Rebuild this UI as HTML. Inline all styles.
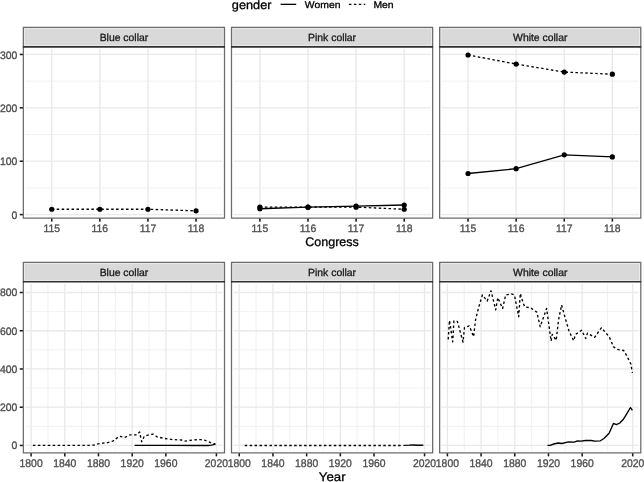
<!DOCTYPE html>
<html lang="en"><head><meta charset="utf-8"><title>Occupational background by gender</title>
<style>html,body{margin:0;padding:0;background:#fff}svg{display:block}</style></head>
<body>
<svg width="644" height="482" viewBox="0 0 644 482" text-rendering="geometricPrecision" font-family='"Liberation Sans", Arial, Helvetica, sans-serif'>
<rect width="644" height="482" fill="#fff"/>
<path d="M25.25 187.91H222.6" stroke="#e9e9e9" stroke-width="0.65"/>
<path d="M25.25 134.53H222.6" stroke="#e9e9e9" stroke-width="0.65"/>
<path d="M25.25 81.15H222.6" stroke="#e9e9e9" stroke-width="0.65"/>
<path d="M25.25 214.6H222.6" stroke="#e9e9e9" stroke-width="1.3"/>
<path d="M25.25 161.22H222.6" stroke="#e9e9e9" stroke-width="1.3"/>
<path d="M25.25 107.84H222.6" stroke="#e9e9e9" stroke-width="1.3"/>
<path d="M25.25 54.46H222.6" stroke="#e9e9e9" stroke-width="1.3"/>
<path d="M51.75 49.2V216.15" stroke="#e9e9e9" stroke-width="1.3"/>
<path d="M99.85 49.2V216.15" stroke="#e9e9e9" stroke-width="1.3"/>
<path d="M147.95 49.2V216.15" stroke="#e9e9e9" stroke-width="1.3"/>
<path d="M196.05 49.2V216.15" stroke="#e9e9e9" stroke-width="1.3"/>
<polyline points="51.75,209.26 99.85,209.26 147.95,209.26 196.05,210.86" fill="none" stroke="#000" stroke-width="1.3" stroke-dasharray="2.5 2.45"/>
<circle cx="51.75" cy="209.26" r="2.6" fill="#000"/>
<circle cx="99.85" cy="209.26" r="2.6" fill="#000"/>
<circle cx="147.95" cy="209.26" r="2.6" fill="#000"/>
<circle cx="196.05" cy="210.86" r="2.6" fill="#000"/>
<rect x="23.35" y="27.4" width="201.15" height="19.5" fill="#d9d9d9"/>
<rect x="24.6" y="28.6" width="198.65" height="16.9" fill="none" stroke="#ececec" stroke-width="0.9"/>
<path d="M23.35 218.05V27.4H224.5V218.05Z" fill="none" stroke="#6b6b6b" stroke-width="1.25"/>
<path d="M22.9 46.9H224.95" stroke="#303030" stroke-width="1.6"/>
<text transform="translate(123.93 40.65) scale(1.04 1.04)" font-size="10" fill="#1a1a1a" stroke="#1a1a1a" stroke-width="0.3" text-anchor="middle">Blue collar</text>
<path d="M51.75 218.55v3.1" stroke="#1a1a1a" stroke-width="1.55"/>
<text transform="translate(51.75 231.6) scale(1.04 1.08)" font-size="10" fill="#4d4d4d" stroke="#4d4d4d" stroke-width="0.3" text-anchor="middle">115</text>
<path d="M99.85 218.55v3.1" stroke="#1a1a1a" stroke-width="1.55"/>
<text transform="translate(99.85 231.6) scale(1.04 1.08)" font-size="10" fill="#4d4d4d" stroke="#4d4d4d" stroke-width="0.3" text-anchor="middle">116</text>
<path d="M147.95 218.55v3.1" stroke="#1a1a1a" stroke-width="1.55"/>
<text transform="translate(147.95 231.6) scale(1.04 1.08)" font-size="10" fill="#4d4d4d" stroke="#4d4d4d" stroke-width="0.3" text-anchor="middle">117</text>
<path d="M196.05 218.55v3.1" stroke="#1a1a1a" stroke-width="1.55"/>
<text transform="translate(196.05 231.6) scale(1.04 1.08)" font-size="10" fill="#4d4d4d" stroke="#4d4d4d" stroke-width="0.3" text-anchor="middle">118</text>
<path d="M233.4 187.91H430.75" stroke="#e9e9e9" stroke-width="0.65"/>
<path d="M233.4 134.53H430.75" stroke="#e9e9e9" stroke-width="0.65"/>
<path d="M233.4 81.15H430.75" stroke="#e9e9e9" stroke-width="0.65"/>
<path d="M233.4 214.6H430.75" stroke="#e9e9e9" stroke-width="1.3"/>
<path d="M233.4 161.22H430.75" stroke="#e9e9e9" stroke-width="1.3"/>
<path d="M233.4 107.84H430.75" stroke="#e9e9e9" stroke-width="1.3"/>
<path d="M233.4 54.46H430.75" stroke="#e9e9e9" stroke-width="1.3"/>
<path d="M259.9 49.2V216.15" stroke="#e9e9e9" stroke-width="1.3"/>
<path d="M308 49.2V216.15" stroke="#e9e9e9" stroke-width="1.3"/>
<path d="M356.1 49.2V216.15" stroke="#e9e9e9" stroke-width="1.3"/>
<path d="M404.2 49.2V216.15" stroke="#e9e9e9" stroke-width="1.3"/>
<polyline points="259.9,207.13 308,207.13 356.1,207.13 404.2,209.26" fill="none" stroke="#000" stroke-width="1.3" stroke-dasharray="2.5 2.45"/>
<circle cx="259.9" cy="207.13" r="2.6" fill="#000"/>
<circle cx="308" cy="207.13" r="2.6" fill="#000"/>
<circle cx="356.1" cy="207.13" r="2.6" fill="#000"/>
<circle cx="404.2" cy="209.26" r="2.6" fill="#000"/>
<polyline points="259.9,208.73 308,207.13 356.1,206.06 404.2,204.99" fill="none" stroke="#000" stroke-width="1.3"/>
<circle cx="259.9" cy="208.73" r="2.6" fill="#000"/>
<circle cx="308" cy="207.13" r="2.6" fill="#000"/>
<circle cx="356.1" cy="206.06" r="2.6" fill="#000"/>
<circle cx="404.2" cy="204.99" r="2.6" fill="#000"/>
<rect x="231.5" y="27.4" width="201.15" height="19.5" fill="#d9d9d9"/>
<rect x="232.75" y="28.6" width="198.65" height="16.9" fill="none" stroke="#ececec" stroke-width="0.9"/>
<path d="M231.5 218.05V27.4H432.65V218.05Z" fill="none" stroke="#6b6b6b" stroke-width="1.25"/>
<path d="M231.05 46.9H433.1" stroke="#303030" stroke-width="1.6"/>
<text transform="translate(332.07 40.65) scale(1.04 1.04)" font-size="10" fill="#1a1a1a" stroke="#1a1a1a" stroke-width="0.3" text-anchor="middle">Pink collar</text>
<path d="M259.9 218.55v3.1" stroke="#1a1a1a" stroke-width="1.55"/>
<text transform="translate(259.9 231.6) scale(1.04 1.08)" font-size="10" fill="#4d4d4d" stroke="#4d4d4d" stroke-width="0.3" text-anchor="middle">115</text>
<path d="M308 218.55v3.1" stroke="#1a1a1a" stroke-width="1.55"/>
<text transform="translate(308 231.6) scale(1.04 1.08)" font-size="10" fill="#4d4d4d" stroke="#4d4d4d" stroke-width="0.3" text-anchor="middle">116</text>
<path d="M356.1 218.55v3.1" stroke="#1a1a1a" stroke-width="1.55"/>
<text transform="translate(356.1 231.6) scale(1.04 1.08)" font-size="10" fill="#4d4d4d" stroke="#4d4d4d" stroke-width="0.3" text-anchor="middle">117</text>
<path d="M404.2 218.55v3.1" stroke="#1a1a1a" stroke-width="1.55"/>
<text transform="translate(404.2 231.6) scale(1.04 1.08)" font-size="10" fill="#4d4d4d" stroke="#4d4d4d" stroke-width="0.3" text-anchor="middle">118</text>
<path d="M441.55 187.91H638.9" stroke="#e9e9e9" stroke-width="0.65"/>
<path d="M441.55 134.53H638.9" stroke="#e9e9e9" stroke-width="0.65"/>
<path d="M441.55 81.15H638.9" stroke="#e9e9e9" stroke-width="0.65"/>
<path d="M441.55 214.6H638.9" stroke="#e9e9e9" stroke-width="1.3"/>
<path d="M441.55 161.22H638.9" stroke="#e9e9e9" stroke-width="1.3"/>
<path d="M441.55 107.84H638.9" stroke="#e9e9e9" stroke-width="1.3"/>
<path d="M441.55 54.46H638.9" stroke="#e9e9e9" stroke-width="1.3"/>
<path d="M468.05 49.2V216.15" stroke="#e9e9e9" stroke-width="1.3"/>
<path d="M516.15 49.2V216.15" stroke="#e9e9e9" stroke-width="1.3"/>
<path d="M564.25 49.2V216.15" stroke="#e9e9e9" stroke-width="1.3"/>
<path d="M612.35 49.2V216.15" stroke="#e9e9e9" stroke-width="1.3"/>
<polyline points="468.05,54.99 516.15,64.07 564.25,72.08 612.35,74.21" fill="none" stroke="#000" stroke-width="1.3" stroke-dasharray="2.5 2.45"/>
<circle cx="468.05" cy="54.99" r="2.6" fill="#000"/>
<circle cx="516.15" cy="64.07" r="2.6" fill="#000"/>
<circle cx="564.25" cy="72.08" r="2.6" fill="#000"/>
<circle cx="612.35" cy="74.21" r="2.6" fill="#000"/>
<polyline points="468.05,173.5 516.15,168.69 564.25,154.81 612.35,156.95" fill="none" stroke="#000" stroke-width="1.3"/>
<circle cx="468.05" cy="173.5" r="2.6" fill="#000"/>
<circle cx="516.15" cy="168.69" r="2.6" fill="#000"/>
<circle cx="564.25" cy="154.81" r="2.6" fill="#000"/>
<circle cx="612.35" cy="156.95" r="2.6" fill="#000"/>
<rect x="439.65" y="27.4" width="201.15" height="19.5" fill="#d9d9d9"/>
<rect x="440.9" y="28.6" width="198.65" height="16.9" fill="none" stroke="#ececec" stroke-width="0.9"/>
<path d="M439.65 218.05V27.4H640.8V218.05Z" fill="none" stroke="#6b6b6b" stroke-width="1.25"/>
<path d="M439.2 46.9H641.25" stroke="#303030" stroke-width="1.6"/>
<text transform="translate(540.23 40.65) scale(1.04 1.04)" font-size="10" fill="#1a1a1a" stroke="#1a1a1a" stroke-width="0.3" text-anchor="middle">White collar</text>
<path d="M468.05 218.55v3.1" stroke="#1a1a1a" stroke-width="1.55"/>
<text transform="translate(468.05 231.6) scale(1.04 1.08)" font-size="10" fill="#4d4d4d" stroke="#4d4d4d" stroke-width="0.3" text-anchor="middle">115</text>
<path d="M516.15 218.55v3.1" stroke="#1a1a1a" stroke-width="1.55"/>
<text transform="translate(516.15 231.6) scale(1.04 1.08)" font-size="10" fill="#4d4d4d" stroke="#4d4d4d" stroke-width="0.3" text-anchor="middle">116</text>
<path d="M564.25 218.55v3.1" stroke="#1a1a1a" stroke-width="1.55"/>
<text transform="translate(564.25 231.6) scale(1.04 1.08)" font-size="10" fill="#4d4d4d" stroke="#4d4d4d" stroke-width="0.3" text-anchor="middle">117</text>
<path d="M612.35 218.55v3.1" stroke="#1a1a1a" stroke-width="1.55"/>
<text transform="translate(612.35 231.6) scale(1.04 1.08)" font-size="10" fill="#4d4d4d" stroke="#4d4d4d" stroke-width="0.3" text-anchor="middle">118</text>
<path d="M22.85 214.6h-3.1" stroke="#1a1a1a" stroke-width="1.55"/>
<text transform="translate(17.3 218.85) scale(1.04 1.08)" font-size="10" fill="#4d4d4d" stroke="#4d4d4d" stroke-width="0.3" text-anchor="end">0</text>
<path d="M22.85 161.22h-3.1" stroke="#1a1a1a" stroke-width="1.55"/>
<text transform="translate(17.3 165.47) scale(1.04 1.08)" font-size="10" fill="#4d4d4d" stroke="#4d4d4d" stroke-width="0.3" text-anchor="end">100</text>
<path d="M22.85 107.84h-3.1" stroke="#1a1a1a" stroke-width="1.55"/>
<text transform="translate(17.3 112.09) scale(1.04 1.08)" font-size="10" fill="#4d4d4d" stroke="#4d4d4d" stroke-width="0.3" text-anchor="end">200</text>
<path d="M22.85 54.46h-3.1" stroke="#1a1a1a" stroke-width="1.55"/>
<text transform="translate(17.3 58.71) scale(1.04 1.08)" font-size="10" fill="#4d4d4d" stroke="#4d4d4d" stroke-width="0.3" text-anchor="end">300</text>
<text transform="translate(332 246.4) scale(1.0 0.99)" font-size="12.5" fill="#000" stroke="#000" stroke-width="0.3" text-anchor="middle">Congress</text>
<path d="M25.25 426.33H222.6" stroke="#e9e9e9" stroke-width="0.65"/>
<path d="M25.25 388.09H222.6" stroke="#e9e9e9" stroke-width="0.65"/>
<path d="M25.25 349.86H222.6" stroke="#e9e9e9" stroke-width="0.65"/>
<path d="M25.25 311.62H222.6" stroke="#e9e9e9" stroke-width="0.65"/>
<path d="M47.95 284.1V450.9" stroke="#e9e9e9" stroke-width="0.65"/>
<path d="M81.64 284.1V450.9" stroke="#e9e9e9" stroke-width="0.65"/>
<path d="M115.33 284.1V450.9" stroke="#e9e9e9" stroke-width="0.65"/>
<path d="M149.02 284.1V450.9" stroke="#e9e9e9" stroke-width="0.65"/>
<path d="M191.14 284.1V450.9" stroke="#e9e9e9" stroke-width="0.65"/>
<path d="M25.25 445.45H222.6" stroke="#e9e9e9" stroke-width="1.3"/>
<path d="M25.25 407.21H222.6" stroke="#e9e9e9" stroke-width="1.3"/>
<path d="M25.25 368.97H222.6" stroke="#e9e9e9" stroke-width="1.3"/>
<path d="M25.25 330.74H222.6" stroke="#e9e9e9" stroke-width="1.3"/>
<path d="M25.25 292.5H222.6" stroke="#e9e9e9" stroke-width="1.3"/>
<path d="M31.1 284.1V450.9" stroke="#e9e9e9" stroke-width="1.3"/>
<path d="M64.79 284.1V450.9" stroke="#e9e9e9" stroke-width="1.3"/>
<path d="M98.48 284.1V450.9" stroke="#e9e9e9" stroke-width="1.3"/>
<path d="M132.18 284.1V450.9" stroke="#e9e9e9" stroke-width="1.3"/>
<path d="M165.87 284.1V450.9" stroke="#e9e9e9" stroke-width="1.3"/>
<path d="M216.41 284.1V450.9" stroke="#e9e9e9" stroke-width="1.3"/>
<polyline points="32.9,445.4 60,445.4 80,445.35 90,445.3 94,445 97.7,443.95 102.7,443.2 107.6,442.7 112.8,441.1 119.3,436.3 124.8,437.4 130.2,434.8 136.7,434.8 139.6,432 141.7,441.7 144.3,436.3 148.7,434.8 153,434.1 157.4,437 165,438.5 172.6,439.6 181.3,440 185.7,441.1 192.2,440 200.9,439.6 205.2,440.4 208,441.4 210.5,442.6 213,443.6 215.3,444" fill="none" stroke="#000" stroke-width="1.35" stroke-linejoin="round" stroke-dasharray="2.5 2.45"/>
<polyline points="134.6,445.35 170,445.3 200,445.45 208,445.5 211.5,445.2 213.5,444.7 215.4,444" fill="none" stroke="#000" stroke-width="1.35" stroke-linejoin="round"/>
<rect x="23.35" y="262.35" width="201.15" height="19.45" fill="#d9d9d9"/>
<rect x="24.6" y="263.55" width="198.65" height="16.85" fill="none" stroke="#ececec" stroke-width="0.9"/>
<path d="M23.35 452.8V262.35H224.5V452.8Z" fill="none" stroke="#6b6b6b" stroke-width="1.25"/>
<path d="M22.9 281.8H224.95" stroke="#303030" stroke-width="1.6"/>
<text transform="translate(123.93 275.6) scale(1.04 1.04)" font-size="10" fill="#1a1a1a" stroke="#1a1a1a" stroke-width="0.3" text-anchor="middle">Blue collar</text>
<path d="M31.1 453.3v3.1" stroke="#1a1a1a" stroke-width="1.55"/>
<text transform="translate(31.1 466.55) scale(1.04 1.12)" font-size="10" fill="#4d4d4d" stroke="#4d4d4d" stroke-width="0.3" text-anchor="middle">1800</text>
<path d="M64.79 453.3v3.1" stroke="#1a1a1a" stroke-width="1.55"/>
<text transform="translate(64.79 466.55) scale(1.04 1.12)" font-size="10" fill="#4d4d4d" stroke="#4d4d4d" stroke-width="0.3" text-anchor="middle">1840</text>
<path d="M98.48 453.3v3.1" stroke="#1a1a1a" stroke-width="1.55"/>
<text transform="translate(98.48 466.55) scale(1.04 1.12)" font-size="10" fill="#4d4d4d" stroke="#4d4d4d" stroke-width="0.3" text-anchor="middle">1880</text>
<path d="M132.18 453.3v3.1" stroke="#1a1a1a" stroke-width="1.55"/>
<text transform="translate(132.18 466.55) scale(1.04 1.12)" font-size="10" fill="#4d4d4d" stroke="#4d4d4d" stroke-width="0.3" text-anchor="middle">1920</text>
<path d="M165.87 453.3v3.1" stroke="#1a1a1a" stroke-width="1.55"/>
<text transform="translate(165.87 466.55) scale(1.04 1.12)" font-size="10" fill="#4d4d4d" stroke="#4d4d4d" stroke-width="0.3" text-anchor="middle">1960</text>
<path d="M216.41 453.3v3.1" stroke="#1a1a1a" stroke-width="1.55"/>
<text transform="translate(216.41 466.55) scale(1.04 1.12)" font-size="10" fill="#4d4d4d" stroke="#4d4d4d" stroke-width="0.3" text-anchor="middle">2020</text>
<path d="M233.4 426.33H430.75" stroke="#e9e9e9" stroke-width="0.65"/>
<path d="M233.4 388.09H430.75" stroke="#e9e9e9" stroke-width="0.65"/>
<path d="M233.4 349.86H430.75" stroke="#e9e9e9" stroke-width="0.65"/>
<path d="M233.4 311.62H430.75" stroke="#e9e9e9" stroke-width="0.65"/>
<path d="M256.1 284.1V450.9" stroke="#e9e9e9" stroke-width="0.65"/>
<path d="M289.79 284.1V450.9" stroke="#e9e9e9" stroke-width="0.65"/>
<path d="M323.48 284.1V450.9" stroke="#e9e9e9" stroke-width="0.65"/>
<path d="M357.17 284.1V450.9" stroke="#e9e9e9" stroke-width="0.65"/>
<path d="M399.29 284.1V450.9" stroke="#e9e9e9" stroke-width="0.65"/>
<path d="M233.4 445.45H430.75" stroke="#e9e9e9" stroke-width="1.3"/>
<path d="M233.4 407.21H430.75" stroke="#e9e9e9" stroke-width="1.3"/>
<path d="M233.4 368.97H430.75" stroke="#e9e9e9" stroke-width="1.3"/>
<path d="M233.4 330.74H430.75" stroke="#e9e9e9" stroke-width="1.3"/>
<path d="M233.4 292.5H430.75" stroke="#e9e9e9" stroke-width="1.3"/>
<path d="M239.25 284.1V450.9" stroke="#e9e9e9" stroke-width="1.3"/>
<path d="M272.94 284.1V450.9" stroke="#e9e9e9" stroke-width="1.3"/>
<path d="M306.63 284.1V450.9" stroke="#e9e9e9" stroke-width="1.3"/>
<path d="M340.33 284.1V450.9" stroke="#e9e9e9" stroke-width="1.3"/>
<path d="M374.02 284.1V450.9" stroke="#e9e9e9" stroke-width="1.3"/>
<path d="M424.56 284.1V450.9" stroke="#e9e9e9" stroke-width="1.3"/>
<polyline points="244.7,445.5 403.2,445.5" fill="none" stroke="#000" stroke-width="1.35" stroke-linejoin="round" stroke-dasharray="2.5 2.45"/>
<polyline points="403.5,445.35 409,445.2 413,445 417,445.25 421,445.25 423.4,445.05" fill="none" stroke="#000" stroke-width="1.35" stroke-linejoin="round"/>
<rect x="231.5" y="262.35" width="201.15" height="19.45" fill="#d9d9d9"/>
<rect x="232.75" y="263.55" width="198.65" height="16.85" fill="none" stroke="#ececec" stroke-width="0.9"/>
<path d="M231.5 452.8V262.35H432.65V452.8Z" fill="none" stroke="#6b6b6b" stroke-width="1.25"/>
<path d="M231.05 281.8H433.1" stroke="#303030" stroke-width="1.6"/>
<text transform="translate(332.07 275.6) scale(1.04 1.04)" font-size="10" fill="#1a1a1a" stroke="#1a1a1a" stroke-width="0.3" text-anchor="middle">Pink collar</text>
<path d="M239.25 453.3v3.1" stroke="#1a1a1a" stroke-width="1.55"/>
<text transform="translate(239.25 466.55) scale(1.04 1.12)" font-size="10" fill="#4d4d4d" stroke="#4d4d4d" stroke-width="0.3" text-anchor="middle">1800</text>
<path d="M272.94 453.3v3.1" stroke="#1a1a1a" stroke-width="1.55"/>
<text transform="translate(272.94 466.55) scale(1.04 1.12)" font-size="10" fill="#4d4d4d" stroke="#4d4d4d" stroke-width="0.3" text-anchor="middle">1840</text>
<path d="M306.63 453.3v3.1" stroke="#1a1a1a" stroke-width="1.55"/>
<text transform="translate(306.63 466.55) scale(1.04 1.12)" font-size="10" fill="#4d4d4d" stroke="#4d4d4d" stroke-width="0.3" text-anchor="middle">1880</text>
<path d="M340.33 453.3v3.1" stroke="#1a1a1a" stroke-width="1.55"/>
<text transform="translate(340.33 466.55) scale(1.04 1.12)" font-size="10" fill="#4d4d4d" stroke="#4d4d4d" stroke-width="0.3" text-anchor="middle">1920</text>
<path d="M374.02 453.3v3.1" stroke="#1a1a1a" stroke-width="1.55"/>
<text transform="translate(374.02 466.55) scale(1.04 1.12)" font-size="10" fill="#4d4d4d" stroke="#4d4d4d" stroke-width="0.3" text-anchor="middle">1960</text>
<path d="M424.56 453.3v3.1" stroke="#1a1a1a" stroke-width="1.55"/>
<text transform="translate(424.56 466.55) scale(1.04 1.12)" font-size="10" fill="#4d4d4d" stroke="#4d4d4d" stroke-width="0.3" text-anchor="middle">2020</text>
<path d="M441.55 426.33H638.9" stroke="#e9e9e9" stroke-width="0.65"/>
<path d="M441.55 388.09H638.9" stroke="#e9e9e9" stroke-width="0.65"/>
<path d="M441.55 349.86H638.9" stroke="#e9e9e9" stroke-width="0.65"/>
<path d="M441.55 311.62H638.9" stroke="#e9e9e9" stroke-width="0.65"/>
<path d="M464.25 284.1V450.9" stroke="#e9e9e9" stroke-width="0.65"/>
<path d="M497.94 284.1V450.9" stroke="#e9e9e9" stroke-width="0.65"/>
<path d="M531.63 284.1V450.9" stroke="#e9e9e9" stroke-width="0.65"/>
<path d="M565.32 284.1V450.9" stroke="#e9e9e9" stroke-width="0.65"/>
<path d="M607.44 284.1V450.9" stroke="#e9e9e9" stroke-width="0.65"/>
<path d="M441.55 445.45H638.9" stroke="#e9e9e9" stroke-width="1.3"/>
<path d="M441.55 407.21H638.9" stroke="#e9e9e9" stroke-width="1.3"/>
<path d="M441.55 368.97H638.9" stroke="#e9e9e9" stroke-width="1.3"/>
<path d="M441.55 330.74H638.9" stroke="#e9e9e9" stroke-width="1.3"/>
<path d="M441.55 292.5H638.9" stroke="#e9e9e9" stroke-width="1.3"/>
<path d="M447.4 284.1V450.9" stroke="#e9e9e9" stroke-width="1.3"/>
<path d="M481.09 284.1V450.9" stroke="#e9e9e9" stroke-width="1.3"/>
<path d="M514.78 284.1V450.9" stroke="#e9e9e9" stroke-width="1.3"/>
<path d="M548.48 284.1V450.9" stroke="#e9e9e9" stroke-width="1.3"/>
<path d="M582.17 284.1V450.9" stroke="#e9e9e9" stroke-width="1.3"/>
<path d="M632.71 284.1V450.9" stroke="#e9e9e9" stroke-width="1.3"/>
<polyline points="448.2,339.4 449.5,320.4 452.7,341.8 453.9,320.9 457.4,321.5 463,342.1 464.5,327.5 469.3,325.9 473.6,336.7 475.6,319.6 478.8,306.9 482.4,295 487.2,301.1 491,290.8 495.7,309.8 497.8,297.7 502.6,308.5 505.7,295 511.3,293.9 514.4,295 518.7,316.7 520.3,293.5 522.4,300.6 524.7,306.9 530.3,307.7 536.8,312.1 540.2,326.7 546.6,308.5 551.1,341 552.3,334.4 556.2,340.3 558.5,320.1 561.6,305 564.8,316.6 569.2,331.7 573.7,340.7 575.5,334.4 581.7,330.3 585.7,338.5 587.4,333.2 594.6,337.4 601.4,327.8 609.4,337.1 613.5,346.9 618.3,349.6 623.7,350.5 627.2,356.7 630.8,363.9 632.4,372.8" fill="none" stroke="#000" stroke-width="1.35" stroke-linejoin="round" stroke-dasharray="2.5 2.45"/>
<polyline points="547.5,445.3 550.3,445.3 553.7,444 558.2,443 561.7,443.5 568.5,441.9 574.2,442.1 577.6,440.8 581,441.2 585.6,440.5 591.3,440.5 594.7,441.2 600.4,440.8 603.9,438.5 609.1,433.2 613.4,423.4 616.4,424.6 619.8,423 623.2,419.6 626.7,413.9 630.5,407.5 632.4,410.4" fill="none" stroke="#000" stroke-width="1.35" stroke-linejoin="round"/>
<rect x="439.65" y="262.35" width="201.15" height="19.45" fill="#d9d9d9"/>
<rect x="440.9" y="263.55" width="198.65" height="16.85" fill="none" stroke="#ececec" stroke-width="0.9"/>
<path d="M439.65 452.8V262.35H640.8V452.8Z" fill="none" stroke="#6b6b6b" stroke-width="1.25"/>
<path d="M439.2 281.8H641.25" stroke="#303030" stroke-width="1.6"/>
<text transform="translate(540.23 275.6) scale(1.04 1.04)" font-size="10" fill="#1a1a1a" stroke="#1a1a1a" stroke-width="0.3" text-anchor="middle">White collar</text>
<path d="M447.4 453.3v3.1" stroke="#1a1a1a" stroke-width="1.55"/>
<text transform="translate(447.4 466.55) scale(1.04 1.12)" font-size="10" fill="#4d4d4d" stroke="#4d4d4d" stroke-width="0.3" text-anchor="middle">1800</text>
<path d="M481.09 453.3v3.1" stroke="#1a1a1a" stroke-width="1.55"/>
<text transform="translate(481.09 466.55) scale(1.04 1.12)" font-size="10" fill="#4d4d4d" stroke="#4d4d4d" stroke-width="0.3" text-anchor="middle">1840</text>
<path d="M514.78 453.3v3.1" stroke="#1a1a1a" stroke-width="1.55"/>
<text transform="translate(514.78 466.55) scale(1.04 1.12)" font-size="10" fill="#4d4d4d" stroke="#4d4d4d" stroke-width="0.3" text-anchor="middle">1880</text>
<path d="M548.48 453.3v3.1" stroke="#1a1a1a" stroke-width="1.55"/>
<text transform="translate(548.48 466.55) scale(1.04 1.12)" font-size="10" fill="#4d4d4d" stroke="#4d4d4d" stroke-width="0.3" text-anchor="middle">1920</text>
<path d="M582.17 453.3v3.1" stroke="#1a1a1a" stroke-width="1.55"/>
<text transform="translate(582.17 466.55) scale(1.04 1.12)" font-size="10" fill="#4d4d4d" stroke="#4d4d4d" stroke-width="0.3" text-anchor="middle">1960</text>
<path d="M632.71 453.3v3.1" stroke="#1a1a1a" stroke-width="1.55"/>
<text transform="translate(632.71 466.55) scale(1.04 1.12)" font-size="10" fill="#4d4d4d" stroke="#4d4d4d" stroke-width="0.3" text-anchor="middle">2020</text>
<path d="M22.85 445.45h-3.1" stroke="#1a1a1a" stroke-width="1.55"/>
<text transform="translate(17.3 449.3) scale(1.04 1.08)" font-size="10" fill="#4d4d4d" stroke="#4d4d4d" stroke-width="0.3" text-anchor="end">0</text>
<path d="M22.85 407.21h-3.1" stroke="#1a1a1a" stroke-width="1.55"/>
<text transform="translate(17.3 411.06) scale(1.04 1.08)" font-size="10" fill="#4d4d4d" stroke="#4d4d4d" stroke-width="0.3" text-anchor="end">200</text>
<path d="M22.85 368.97h-3.1" stroke="#1a1a1a" stroke-width="1.55"/>
<text transform="translate(17.3 372.82) scale(1.04 1.08)" font-size="10" fill="#4d4d4d" stroke="#4d4d4d" stroke-width="0.3" text-anchor="end">400</text>
<path d="M22.85 330.74h-3.1" stroke="#1a1a1a" stroke-width="1.55"/>
<text transform="translate(17.3 334.59) scale(1.04 1.08)" font-size="10" fill="#4d4d4d" stroke="#4d4d4d" stroke-width="0.3" text-anchor="end">600</text>
<path d="M22.85 292.5h-3.1" stroke="#1a1a1a" stroke-width="1.55"/>
<text transform="translate(17.3 296.35) scale(1.04 1.08)" font-size="10" fill="#4d4d4d" stroke="#4d4d4d" stroke-width="0.3" text-anchor="end">800</text>
<text transform="translate(332.2 480.55) scale(1.06 0.99)" font-size="12.5" fill="#000" stroke="#000" stroke-width="0.3" text-anchor="middle">Year</text>
<text transform="translate(231.8 8.85) scale(1.02 0.97)" font-size="12.5" fill="#000" stroke="#000" stroke-width="0.3">gender</text>
<path d="M280.6 4.35H296.2" stroke="#000" stroke-width="1.3"/>
<text transform="translate(304.8 7.7) scale(1.04 0.97)" font-size="10" fill="#000" stroke="#000" stroke-width="0.3">Women</text>
<path d="M348.9 4.35H365.2" stroke="#000" stroke-width="1.3" stroke-dasharray="2.5 2.45"/>
<text transform="translate(373.4 7.7) scale(1.04 0.97)" font-size="10" fill="#000" stroke="#000" stroke-width="0.3">Men</text>
</svg>
</body></html>
